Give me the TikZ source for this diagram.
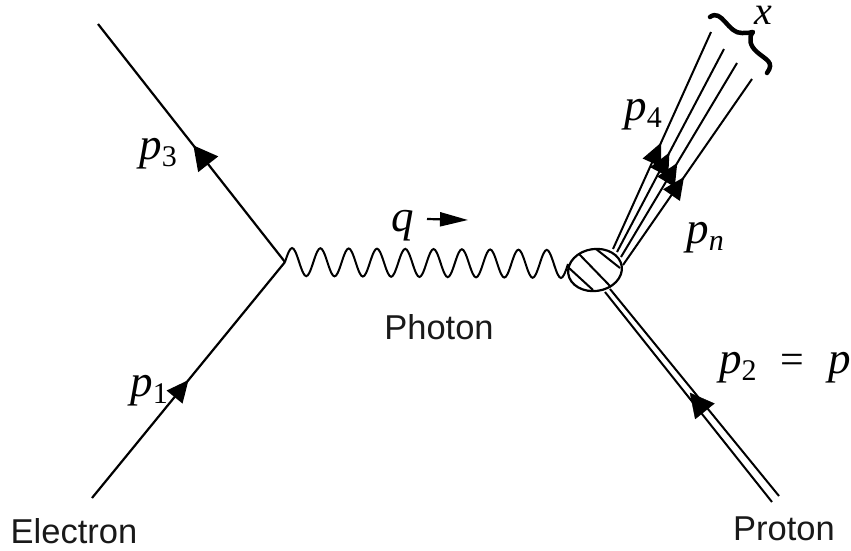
\documentclass[tikz,border=0pt]{standalone}
\usepackage{fontspec}
\setmainfont{Liberation Sans}
\newfontfamily\mathish{Liberation Serif}
\usetikzlibrary{arrows.meta,decorations.markings,shapes.geometric}
\newcommand{\plabel}[2]{{\mathish\fontsize{45}{45}\selectfont\itshape #1\raisebox{-7pt}{\fontsize{30}{30}\selectfont\upshape #2}}}
\newcommand{\plabelit}[2]{{\mathish\fontsize{45}{45}\selectfont\itshape #1\raisebox{-7pt}{\fontsize{30}{30}\selectfont\itshape #2}}}
\tikzset{
  x=1pt,y=-1pt,
  line/.style={line width=2.2pt,black},
  thinline/.style={line width=2pt,black},
  flow/.style={postaction={decorate},decoration={markings,mark=at position #1 with {\arrow{Triangle[length=22pt,width=20pt]}}}},
  bigflow/.style={postaction={decorate},decoration={markings,mark=at position #1 with {\arrow{Triangle[length=24pt,width=25pt]}}}},
  photon/.style={line width=2pt,black},
  txt/.style={inner sep=0pt,font=\fontsize{34.5}{35}\selectfont,text=black!90},
  sym/.style={inner sep=0pt,text=black}
}
\begin{document}
\begin{tikzpicture}
\useasboundingbox (0,0) rectangle (851,550);
\coordinate (v) at (285,262);
\coordinate (eout) at (98,24);
\coordinate (ein) at (92,498);
\node[ellipse,draw,line width=2.2pt,black,minimum width=54pt,minimum height=42pt,inner sep=0pt,rotate=8] (blob) at (595,270) {};
\coordinate (o1a) at (613,249); \coordinate (o1b) at (711,32);
\coordinate (o2a) at (617,252); \coordinate (o2b) at (724,49);
\coordinate (o3a) at (621,257); \coordinate (o3b) at (737,63);
\coordinate (o4a) at (623,265); \coordinate (o4b) at (752,79);
\coordinate (pa1) at (779,496); \coordinate (pb1) at (610,289);
\coordinate (pa2) at (772,502); \coordinate (pb2) at (605,292);
\draw[line,bigflow=0.49] (v) -- (eout);
\draw[line,flow=0.50] (ein) -- (v);
\draw[photon] (v) \foreach \s in {-1,1,-1,1,-1,1,-1,1,-1,1,-1,1,-1,1,-1,1,-1,1,-1,1} { .. controls +(6,\s*18.67) and +(-6,\s*18.67) .. ++(14.15,0.1) };
\draw[thinline,flow=0.49] (o1a) -- (o1b);
\draw[thinline,flow=0.49] (o2a) -- (o2b);
\draw[thinline,flow=0.485] (o3a) -- (o3b);
\draw[thinline,flow=0.473] (o4a) -- (o4b);
\draw[thinline] (pa1) -- (pb1);
\draw[thinline] (pa2) -- (pb2);
\coordinate (pm) at (775.5,499);
\coordinate (pn) at (607.5,290.5);
\draw[draw=none,bigflow=0.51] (pm) -- (pn);
\coordinate (qa) at (427,219); \coordinate (qb) at (468,220);
\draw[line,-{Triangle[length=28pt,width=14pt]}] (qa) -- (qb);
% blob hatching
\coordinate (h1a) at (579,254); \coordinate (h1b) at (611,287);
\coordinate (h2a) at (569,268); \coordinate (h2b) at (593,290);
\coordinate (h3a) at (596,249); \coordinate (h3b) at (620,268);
\draw[thinline] (h1a) -- (h1b) (h2a) -- (h2b) (h3a) -- (h3b);
% brace
\coordinate (b1) at (710,17);
\coordinate (b2) at (753,32);
\coordinate (b3) at (767,73);
\draw[line width=4.5pt,black,line cap=round,line join=round]
  (b1) .. controls (722,8) and (728,34) .. (742,33)
  .. controls (747,33) and (750,33) .. (b2)
  .. controls (748,38) and (750,46) .. (757,52)
  .. controls (766,60) and (775,62) .. (b3);
\node[sym] (lp3) at (158,154) {\plabel{p}{3}};
\node[sym] (lp1) at (149,391) {\plabel{p}{1}};
\node[sym] (lq) at (403,226) {{\mathish\fontsize{45}{45}\selectfont\itshape q}};
\node[sym] (lp4) at (643,115) {\plabel{p}{4}};
\node[sym] (lpn) at (705,238) {\plabelit{p}{n}};
\node[sym] (lp2) at (785,368) {\plabel{p}{2}\hspace{24pt}{\mathish\fontsize{42}{42}\selectfont =}\hspace{24pt}{\mathish\fontsize{45}{45}\selectfont\itshape p}};
\node[sym] (lx) at (763,15) {{\mathish\fontsize{40}{40}\selectfont\itshape x}};
\node[txt] (lph) at (439,327) {Photon};
\node[txt] (lel) at (74,531) {Electron};
\node[txt] (lpr) at (784,529) {Proton};
\end{tikzpicture}
\end{document}
